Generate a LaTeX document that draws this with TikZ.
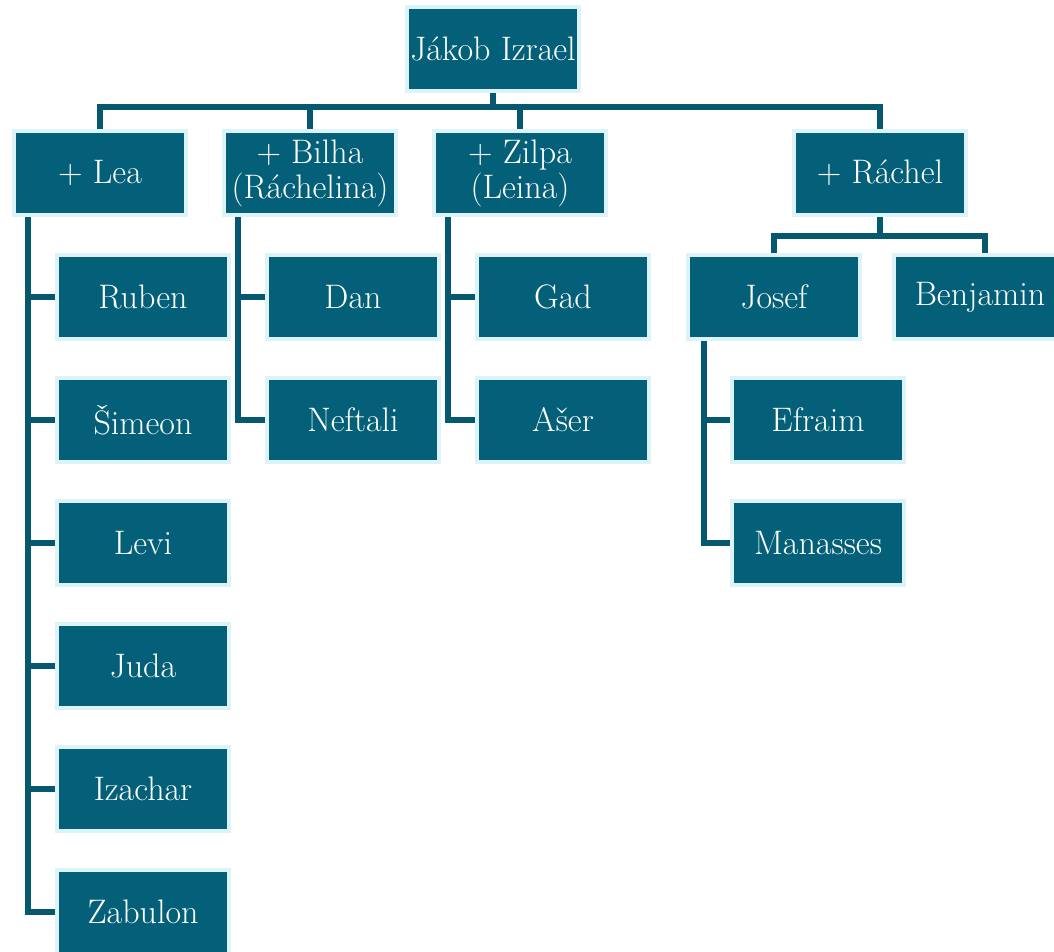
\documentclass[tikz,border=0pt]{standalone}
\usepackage{fontspec}
\usepackage{tikz}
\usetikzlibrary{backgrounds}

\definecolor{boxfill}{RGB}{4,96,120}
\definecolor{boxrim}{RGB}{220,243,248}
\definecolor{linkcol}{RGB}{6,88,112}

\begin{document}
\begin{tikzpicture}[x=1pt,y=1pt]
\tikzstyle{person}=[rectangle, fill=boxfill, draw=boxrim, line width=4pt,
  minimum width=172pt, minimum height=84pt, inner sep=2pt, align=center,
  text=white, font=\fontsize{34}{35}\selectfont]
\tikzstyle{link}=[draw=linkcol, line width=6pt]
\useasboundingbox (0,0) rectangle (1054,-951);
% top
\node [person] (jakob) at (493,-49) {Jákob Izrael};
% wives
\node [person] (lea) at (100,-173) {+ Lea};
\node [person] (bilha) at (310,-173) {+ Bilha\\(Ráchelina)};
\node [person] (zilpa) at (520,-173) {+ Zilpa\\(Leina)};
\node [person] (rachel) at (880,-173) {+ Ráchel};
% sons of Lea
\node [person] (ruben) at (143,-297) {Ruben};
\node [person] (simeon) at (143,-420) {Šimeon};
\node [person] (levi) at (143,-543) {Levi};
\node [person] (juda) at (143,-666) {Juda};
\node [person] (izachar) at (143,-789) {Izachar};
\node [person] (zabulon) at (143,-912) {Zabulon};
% sons of Bilha and Zilpa
\node [person] (dan) at (353,-297) {Dan};
\node [person] (neftali) at (353,-420) {Neftali};
\node [person] (gad) at (563,-297) {Gad};
\node [person] (aser) at (563,-420) {Ašer};
% sons of Rachel
\node [person] (josef) at (774,-297) {Josef};
\node [person] (benjamin) at (980,-297) {Benjamin};
\node [person] (efraim) at (818,-420) {Efraim};
\node [person] (manasses) at (818,-543) {Manasses};
\begin{pgfonlayer}{background}
\draw [link] (jakob.south) -- ++(0,-14) -| (lea.north);
\draw [link] (jakob.south) -- ++(0,-14) -| (bilha.north);
\draw [link] (jakob.south) -- ++(0,-14) -| (zilpa.north);
\draw [link] (jakob.south) -- ++(0,-14) -| (rachel.north);
\draw [link] ([xshift=16pt]lea.south west) |- (ruben.west);
\draw [link] ([xshift=16pt]lea.south west) |- (simeon.west);
\draw [link] ([xshift=16pt]lea.south west) |- (levi.west);
\draw [link] ([xshift=16pt]lea.south west) |- (juda.west);
\draw [link] ([xshift=16pt]lea.south west) |- (izachar.west);
\draw [link] ([xshift=16pt]lea.south west) |- (zabulon.west);
\draw [link] ([xshift=16pt]bilha.south west) |- (dan.west);
\draw [link] ([xshift=16pt]bilha.south west) |- (neftali.west);
\draw [link] ([xshift=16pt]zilpa.south west) |- (gad.west);
\draw [link] ([xshift=16pt]zilpa.south west) |- (aser.west);
\draw [link] (rachel.south) -- ++(0,-19) -| (josef.north);
\draw [link] (rachel.south) -- ++(0,-19) -| ([xshift=5pt]benjamin.north);
\draw [link] ([xshift=18pt]josef.south west) |- (efraim.west);
\draw [link] ([xshift=18pt]josef.south west) |- (manasses.west);
\end{pgfonlayer}
\end{tikzpicture}
\end{document}
